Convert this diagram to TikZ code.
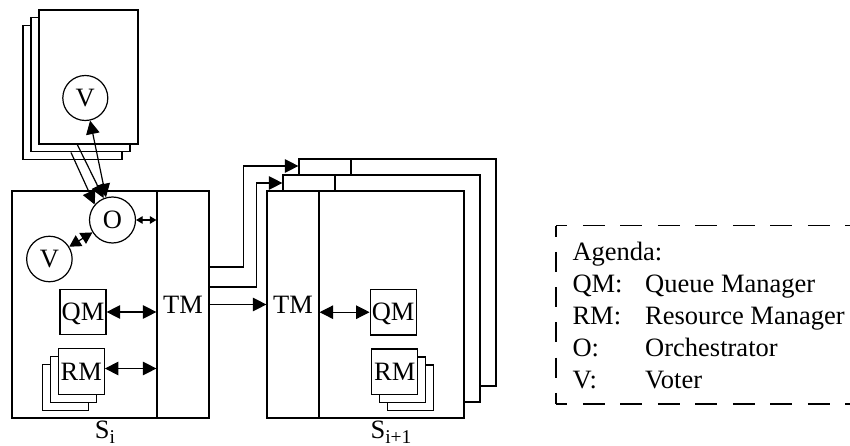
\documentclass[tikz,border=0pt]{standalone}
\usepackage{fontspec}
\setmainfont{Liberation Serif}
\usetikzlibrary{arrows.meta,calc}
\tikzset{
  bigtri/.tip={Triangle[length=13.5pt,width=13.5pt]},
  midtri/.tip={Triangle[length=11.5pt,width=12.5pt]},
  smalltri/.tip={Triangle[length=6.5pt,width=7.5pt]},
}
\begin{document}
\begin{tikzpicture}[x=1pt,y=-1pt,
  every node/.style={font=\fontsize{26.5}{32}\selectfont},
  ln/.style={line width=1.2pt},
  box/.style={draw, ln, fill=white, rectangle, inner sep=0pt, text depth=0pt},
  circ/.style={draw, ln, fill=white, circle, inner sep=0pt, minimum size=46pt, text depth=0pt},
  vpage/.style={box, minimum width=99pt, minimum height=134pt},
  tmbox/.style={box, minimum width=52pt, minimum height=227pt},
  mainbox/.style={box, minimum width=145pt, minimum height=227pt},
  smallbox/.style={box, minimum width=46pt, minimum height=45.5pt},
  arr/.style={ln, -bigtri},
  dbl/.style={ln, bigtri-bigtri},
  mdbl/.style={ln, midtri-midtri},
  sdbl/.style={ln, smalltri-smalltri},
  legdash/.style={ln, dash pattern=on 21.7pt off 15.8pt, dash phase=10.7pt},
]
\useasboundingbox (0,0) rectangle (850,446);

% ---- stacked voter pages (top left)
\node[vpage] (vr3) at (72.5,92.4) {};
\node[vpage] (vr2) at (80.5,84.7) {};
\node[vpage] (vr1) at (88.5,77) {};
\node[circ, minimum size=45pt] (Vt) at (85.3,98) {V};

% ---- site S_i
\node[mainbox] (siA) at (84.5,304.5) {};
\node[tmbox] (tmA) at (183,304.5) {TM};
\node[circ] (O) at (112.5,220) {O};
\node[circ, minimum size=45.5pt] (Vl) at (49.4,259) {V};
\node[smallbox] (qmA) at (83,312) {QM};
\node[smallbox] (rmA3) at (65.3,387.5) {};
\node[smallbox] (rmA2) at (73.3,379.5) {};
\node[smallbox] (rmA) at (81.3,371.5) {RM};
\node[anchor=base] (lblA) at (105,438.5) {S\raisebox{-4.5pt}{\fontsize{19.5}{20}\selectfont i}};

% ---- site S_{i+1} (three stacked copies)
\node[tmbox] (tmB3) at (325,272.5) {};
\node[mainbox] (mainB3) at (423.5,272.5) {};
\node[tmbox] (tmB2) at (309,288.5) {};
\node[mainbox] (mainB2) at (407.5,288.5) {};
\node[tmbox] (tmB) at (293,304.5) {TM};
\node[mainbox] (mainB) at (391.5,304.5) {};
\node[smallbox] (qmB) at (393.2,312.2) {QM};
\node[smallbox] (rmB3) at (410.8,387.7) {};
\node[smallbox] (rmB2) at (402.8,379.7) {};
\node[smallbox] (rmB) at (394.8,371.7) {RM};
\node[anchor=base] (lblB) at (391,438.5) {S\raisebox{-4.5pt}{\fontsize{19.5}{20}\selectfont i+1}};

% ---- connectors inside S_i
\draw[dbl] (qmA.east) -- (qmA.east -| tmA.west);
\coordinate (rmAe) at ($(rmA.east)+(0,-3)$);
\draw[dbl] (rmAe) -- (rmAe -| tmA.west);
\draw[sdbl] (O.east) -- (O.east -| tmA.west);
\draw[mdbl] (Vl) -- (O);

% ---- connectors to the voter pages
\coordinate (pA) at (71,152.5);
\coordinate (pB) at (77,144);
\draw[arr] (pA) -- (O.139);
\draw[arr] (pB) -- (O.112);
\draw[dbl] (O.106) -- (Vt.-78);

% ---- connectors between sites
\draw[arr] (tmA) -- (tmB);
\coordinate (e2) at ($(tmA.east)+(0,-17.5)$);
\coordinate (c2) at (256.7,183);
\draw[arr] (e2) -| (c2) -- (c2 -| tmB2.west);
\coordinate (e3) at ($(tmA.east)+(0,-37.5)$);
\coordinate (c3) at (243.3,166);
\draw[arr] (e3) -| (c3) -- (c3 -| tmB3.west);
\draw[dbl] (qmB.west -| tmB.east) -- (qmB.west);

% ---- legend
\coordinate (lgTL) at (556,225.5);
\coordinate (lgBL) at (556,404);
\coordinate (lgTR) at (870,225.5);
\coordinate (lgBR) at (870,404);
\draw[legdash] (lgTL) -- (lgTR);
\draw[legdash] (lgBL) -- (lgBR);
\draw[ln, dash pattern=on 20pt off 15.26pt, dash phase=9pt] (lgTL) -- (lgBL);
\node[anchor=base west] (lg0) at (569,260) {Agenda:};
\node[anchor=base west] (lg1a) at (569,292) {QM:};
\node[anchor=base west] (lg1b) at (641.7,292) {Queue Manager};
\node[anchor=base west] (lg2a) at (569,324) {RM:};
\node[anchor=base west] (lg2b) at (641.7,324) {Resource Manager};
\node[anchor=base west] (lg3a) at (569,356) {O:};
\node[anchor=base west] (lg3b) at (641.7,356) {Orchestrator};
\node[anchor=base west] (lg4a) at (569,388) {V:};
\node[anchor=base west] (lg4b) at (641.7,388) {Voter};
\end{tikzpicture}
\end{document}
